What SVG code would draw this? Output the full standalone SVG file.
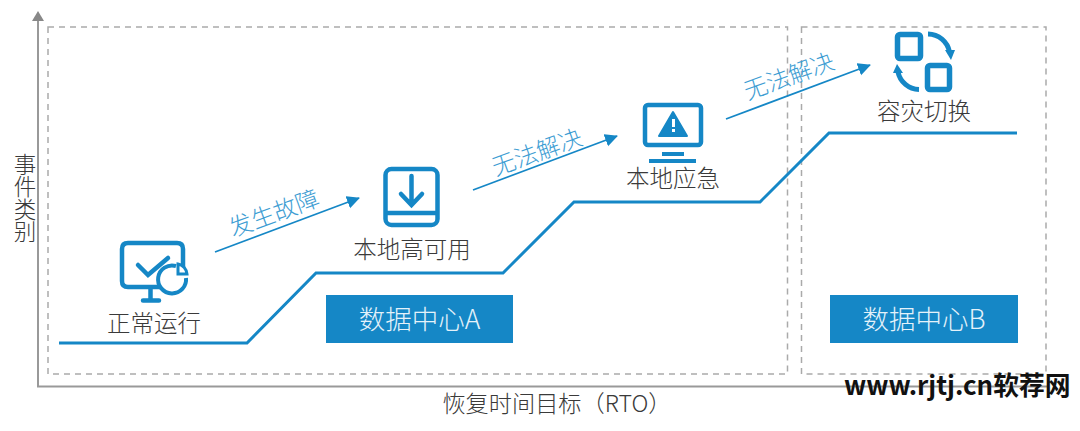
<svg xmlns="http://www.w3.org/2000/svg" width="1080" height="431" viewBox="0 0 1080 431">
<style>
text{font-family:"Noto Sans CJK SC","Noto Sans",sans-serif;font-weight:300}
.lb{font-size:23.5px;fill:#3a3a3a;text-anchor:middle}
.tilt{font-size:23.500px;fill:#3d9dd3;text-anchor:middle}
.box{font-size:26.500px;fill:#e4f2fa;text-anchor:middle}
.dash{fill:none;stroke:#aaa;stroke-width:1.5;stroke-dasharray:6 5}
.ic{fill:none;stroke:#1587c6;stroke-width:4.5}
.ic5{fill:none;stroke:#1587c6;stroke-width:5.5}
.fl{fill:#1587c6}
.arr{fill:none;stroke:#1587c6;stroke-width:1.7;marker-end:url(#ah)}
</style>
<defs>
<marker id="ah" markerUnits="userSpaceOnUse" markerWidth="14" markerHeight="14" refX="12" refY="6.5" orient="auto"><path d="M0 0L13 6.5L0 13z" fill="#1587c6"/></marker>
</defs>
<g id="axes">
<path d="M38 20V386.500H1047" fill="none" stroke="#999" stroke-width="2"/>
<path d="M38 11L44 21H32z" fill="#888"/>
<text class="lb" x="25" y="153" style="writing-mode:vertical-rl;text-anchor:start;font-size:22.500px">事件类别</text>
<text class="lb" x="557" y="412" style="font-size:23.200px">恢复时间目标（RTO）</text>
</g>
<g id="zone-a"><rect class="dash" x="48" y="27" width="739.500" height="347"/></g>
<g id="zone-b"><rect class="dash" x="801.500" y="27" width="244.500" height="347"/></g>
<g id="connectors">
<path d="M59 343H247L316 273H503L574 202H760L829 133H1017" fill="none" stroke="#1587c6" stroke-width="3"/>
<path class="arr" d="M215 252L359 198"/>
<path class="arr" d="M473 190L617 136"/>
<path class="arr" d="M726 119L870 65"/>
<text class="tilt" transform="translate(277 221) rotate(-20)">发生故障</text>
<text class="tilt" transform="translate(540 160) rotate(-20)">无法解决</text>
<text class="tilt" transform="translate(792 84) rotate(-20)">无法解决</text>
</g>
<g id="node-normal">
<path class="ic" d="M160 287H128Q122 287 122 281V249Q122 243 128 243H177Q183 243 183 249V268"/>
<path class="ic" d="M138 265L148 275L168 258" stroke-linecap="round"/>
<path class="ic" d="M150.500 288V300M143 300.500H159" stroke-linecap="round"/>
<path d="M176 266A14 14 0 1 0 186 278" fill="none" stroke="#1587c6" stroke-width="4"/>
<path d="M178 264A11 11 0 0 1 187 274H178z" fill="#fff" stroke="#1587c6" stroke-width="3"/>
<text class="lb" x="154" y="332">正常运行</text>
</g>
<g id="node-local-ha">
<rect class="ic" x="385.500" y="169" width="52" height="56" rx="6"/>
<path class="ic" d="M385.500 213H437.500"/>
<path class="ic" d="M411.500 176V204M401 194L411.500 205L422 194" stroke-linecap="round"/>
<text class="lb" x="412" y="258">本地高可用</text>
</g>
<g id="node-emergency">
<rect class="ic" x="645" y="105" width="56" height="40" rx="3"/>
<path class="fl" d="M673 112L687 136H659z" stroke="#1587c6" stroke-width="2" stroke-linejoin="round"/>
<rect x="672" y="119" width="3" height="8" fill="#fff"/><rect x="672" y="129" width="3" height="3" fill="#fff"/>
<rect class="fl" x="662" y="152" width="22" height="4"/>
<rect class="fl" x="649" y="159" width="47" height="4"/>
<text class="lb" x="673" y="187">本地应急</text>
</g>
<g id="node-failover">
<rect class="ic5" x="897.500" y="34.500" width="23" height="24" rx="2.500"/>
<rect class="ic5" x="927.500" y="65.500" width="22" height="24" rx="2.500"/>
<path d="M928 34A22 22 0 0 1 949.500 52" fill="none" stroke="#1587c6" stroke-width="5" />
<path class="fl" d="M945 50H955L951 60z"/>
<path d="M919 89.500A22 22 0 0 1 898 72" fill="none" stroke="#1587c6" stroke-width="5"/>
<path class="fl" d="M893 73L897 64L903 73z"/>
<text class="lb" x="924" y="120">容灾切换</text>
</g>
<g id="dc-a">
<rect class="fl" x="326" y="295" width="187" height="48"/>
<text class="box" x="419.500" y="329">数据中心A</text>
</g>
<g id="dc-b">
<rect class="fl" x="830" y="295" width="188" height="48"/>
<text class="box" x="924" y="329">数据中心B</text>
</g>
<g id="watermark">
<text x="844" y="395" style="font-weight:700;font-size:25.800px;fill:#111">www.rjtj.cn软荐网</text>
</g>
</svg>
